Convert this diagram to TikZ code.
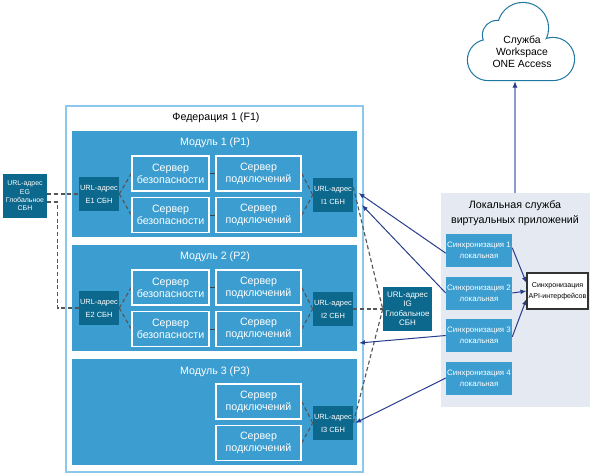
\documentclass[tikz,border=0pt]{standalone}
\usepackage{fontspec}
\setmainfont{Liberation Sans}
\usetikzlibrary{arrows.meta}
\pgfdeclarelayer{boxlayer}
\pgfdeclarelayer{edgelayer}
\pgfdeclarelayer{nodelayer}
\pgfsetlayers{boxlayer,edgelayer,nodelayer,main}
\definecolor{modblue}{RGB}{60,158,208}
\definecolor{urlblue}{RGB}{12,104,140}
\definecolor{fedline}{RGB}{140,200,235}
\definecolor{panelgrey}{RGB}{228,233,242}
\definecolor{arrownavy}{RGB}{40,62,140}
\definecolor{upline}{RGB}{140,156,200}
\definecolor{cloudline}{RGB}{30,120,160}
\definecolor{dashgrey}{RGB}{85,85,85}
\tikzset{font=\fontsize{8}{9}\selectfont}
\tikzstyle{none}=[inner sep=0pt,align=center]
\tikzstyle{title}=[inner sep=0pt,text=white]
\tikzstyle{srv}=[draw=white,line width=1.1pt,fill=modblue,text=white,align=center,inner sep=0pt,minimum height=26.5pt]
\tikzstyle{sec}=[srv,minimum width=57.75pt]
\tikzstyle{conn}=[srv,minimum width=63.75pt]
\tikzstyle{url}=[fill=urlblue,text=white,align=center,inner sep=0pt,minimum width=30pt,minimum height=25.5pt,font=\fontsize{5.6}{9.75}\selectfont]
\tikzstyle{glob}=[fill=urlblue,text=white,align=center,inner sep=0pt,minimum height=33pt]
\tikzstyle{sync}=[fill=modblue,text=white,align=center,inner sep=0pt,minimum width=49.5pt,minimum height=24.75pt,font=\fontsize{5.9}{8.25}\selectfont]
\tikzstyle{api}=[draw=black!80,line width=0.8pt,fill=white,align=center,inner sep=0pt,minimum width=45.75pt,minimum height=27pt,font=\fontsize{5.3}{8.25}\selectfont]
\tikzstyle{dashedge}=[draw=dashgrey,line width=0.85pt,dash pattern=on 3pt off 2pt]
\tikzstyle{link}=[draw=black!75,line width=0.75pt]
\tikzstyle{arr}=[draw=arrownavy,line width=0.75pt,-{Latex[length=4.5pt,width=3.6pt]}]

\begin{document}
\begin{tikzpicture}[x=0.75pt,y=-0.75pt]
	\useasboundingbox (0,0) rectangle (593,475);
	\begin{pgfonlayer}{boxlayer}
		% federation, modules, local service
		\draw[draw=fedline,line width=1.1pt,fill=white] (66,106) rectangle (363,472);
		\fill[modblue] (72,131) rectangle (357,237);
		\fill[modblue] (72,245) rectangle (357,351);
		\fill[modblue] (72,359) rectangle (357,465);
		\fill[panelgrey] (441,193) rectangle (590,407);
		% cloud
		\draw[cloudline,line width=1.7pt] (488,60) circle (20) (497,35) circle (14) (523,28) circle (25) (553,59) circle (21) (488,45) rectangle (553,80);
		\fill[white] (488,60) circle (20);
		\fill[white] (497,35) circle (14);
		\fill[white] (523,28) circle (25);
		\fill[white] (553,59) circle (21);
		\fill[white] (488,45) rectangle (553,80);
	\end{pgfonlayer}
	\begin{pgfonlayer}{nodelayer}
		\node [style=url] (0) at (99,194) {URL-адрес\\E1 СБН};
		\node [style=sec] (1) at (170.5,173.5) {Сервер\\безопасности};
		\node [style=sec] (2) at (170.5,215) {Сервер\\безопасности};
		\node [style=conn] (3) at (258.5,173.5) {Сервер\\подключений};
		\node [style=conn] (4) at (258.5,215) {Сервер\\подключений};
		\node [style=url] (5) at (333,195) {URL-адрес\\I1 СБН};
		\node [style=url] (6) at (99,308) {URL-адрес\\E2 СБН};
		\node [style=sec] (7) at (170.5,287.5) {Сервер\\безопасности};
		\node [style=sec] (8) at (170.5,329) {Сервер\\безопасности};
		\node [style=conn] (9) at (258.5,287.5) {Сервер\\подключений};
		\node [style=conn] (10) at (258.5,329) {Сервер\\подключений};
		\node [style=url] (11) at (333,309) {URL-адрес\\I2 СБН};
		\node [style=conn] (12) at (258.5,401.5) {Сервер\\подключений};
		\node [style=conn] (13) at (258.5,443) {Сервер\\подключений};
		\node [style=url] (14) at (333,423) {URL-адрес\\I3 СБН};
		\node [style=glob,minimum width=33pt,font=\fontsize{5.2}{6.2}\selectfont] (15) at (25,196) {URL-адрес\\EG\\Глобальное\\СБН};
		\node [style=glob,minimum width=36.75pt,font=\fontsize{6}{7.1}\selectfont] (16) at (407.5,309) {URL-адрес\\IG\\Глобальное\\СБН};
		\node [style=none,font=\fontsize{7.8}{9}\selectfont] (17) at (522,52) {Служба\\Workspace\\ONE Access};
		\node [style=sync] (18) at (479,250.5) {Синхронизация 1\\локальная};
		\node [style=sync] (19) at (479,293) {Синхронизация 2\\локальная};
		\node [style=sync] (20) at (479,335.5) {Синхронизация 3\\локальная};
		\node [style=sync] (21) at (479,378) {Синхронизация 4\\локальная};
		\node [style=api] (22) at (557.5,291) {Синхронизация\\API-интерфейсов};
		\node [style=none,font=\fontsize{8}{11.25}\selectfont] (23) at (515,213.5) {Локальная служба\\виртуальных приложений};
		\node [style=none] (26) at (216,118) {Федерация 1 (F1)};
		\node [style=title] (27) at (215,143) {Модуль 1 (P1)};
		\node [style=title] (28) at (215,257) {Модуль 2 (P2)};
		\node [style=title] (29) at (215,372) {Модуль 3 (P3)};
		\coordinate (24) at (515,193);
		\coordinate (25) at (515,81);
		\coordinate (30) at (359,343);
	\end{pgfonlayer}
	\begin{pgfonlayer}{edgelayer}
		\draw[style=dashedge] (15.east |- 0.west) to (0.west);
		\draw[style=dashedge] ([yshift=-4.5pt]15.east) -- ++(10,0) |- (6.west);
		\draw[style=dashedge] (0.east) to (1.west);
		\draw[style=dashedge] (0.east) to (2.west);
		\draw[style=dashedge] (6.east) to (7.west);
		\draw[style=dashedge] (6.east) to (8.west);
		\draw[style=link] (1) to (3);
		\draw[style=link] (2) to (4);
		\draw[style=link] (7) to (9);
		\draw[style=link] (8) to (10);
		\draw[style=dashedge] (3.east) to (5.west);
		\draw[style=dashedge] (4.east) to (5.west);
		\draw[style=dashedge] (9.east) to (11.west);
		\draw[style=dashedge] (10.east) to (11.west);
		\draw[style=dashedge] (12.east) to (14.west);
		\draw[style=dashedge] (13.east) to (14.west);
		\draw[style=dashedge] (11.east) to (16.west);
		\draw[style=dashedge] ([yshift=6pt]5.east) to (16.west);
		\draw[style=dashedge] (16.west) to (14.east);
		\draw[style=arr] ([yshift=-2pt]18.west) to ([xshift=4pt,yshift=1.5pt]5.east);
		\draw[style=arr] (19.west) to ([xshift=6.5pt,yshift=-7.5pt]5.east);
		\draw[style=arr] (20.west) to (30);
		\draw[style=arr] (21.west) to ([xshift=1.5pt]14.east);
		\draw[style=arr] ([yshift=2pt]18.east) to ([yshift=6pt]22.west);
		\draw[style=arr] (19.east) to (22.west);
		\draw[style=arr] ([yshift=-1pt]20.east) to ([yshift=-6pt]22.west);
		\draw[draw=upline,line width=1pt,-{Latex[length=5pt,width=4pt,color=arrownavy]}] (24) to (25);
	\end{pgfonlayer}
\end{tikzpicture}
\end{document}
